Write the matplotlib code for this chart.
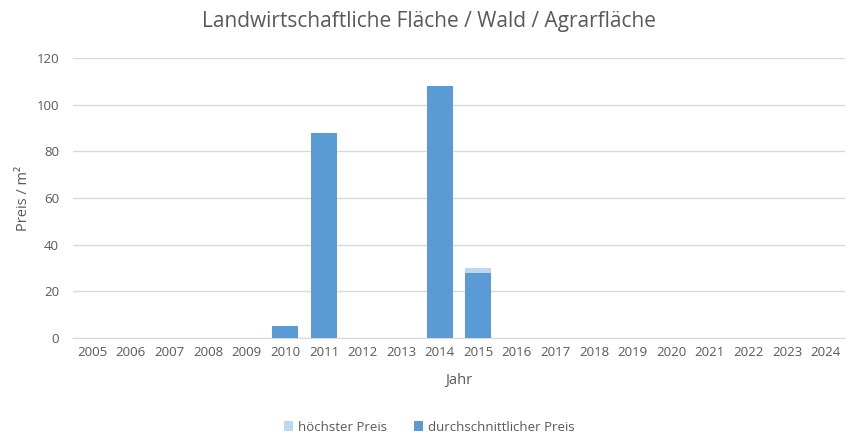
import matplotlib
matplotlib.use("Agg")
import matplotlib.pyplot as plt
import numpy as np

years = [str(y) for y in range(2005, 2025)]
hoechster = [0, 0, 0, 0, 0, 5, 88, 0, 0, 108, 30, 0, 0, 0, 0, 0, 0, 0, 0, 0]
durchschnitt = [0, 0, 0, 0, 0, 5, 88, 0, 0, 108, 28, 0, 0, 0, 0, 0, 0, 0, 0, 0]

plt.rcParams['font.family'] = ['Open Sans', 'DejaVu Sans']
fig = plt.figure(figsize=(8.59, 4.41), dpi=100)
ax = fig.add_axes([73/859, 1 - 338/441, (845-73)/859, (338-58)/441])

x = np.arange(len(years))
w = 0.68
ax.bar(x, hoechster, width=w, color='#BDD7EE', label='höchster Preis', zorder=2)
ax.bar(x, durchschnitt, width=w, color='#5B9BD5', label='durchschnittlicher Preis', zorder=3)

ax.set_xlim(-0.5, len(years) - 0.5)
ax.set_ylim(0, 120)
ax.set_yticks(range(0, 121, 20))
ax.set_xticks(x)
ax.set_xticklabels(years)
ax.grid(axis='y', color='#D9D9D9', linewidth=1, zorder=0)
for s in ['top', 'right', 'left']:
    ax.spines[s].set_visible(False)
ax.spines['bottom'].set_color('#D9D9D9')
ax.tick_params(axis='both', length=0, labelsize=9.5, colors='#595959', pad=6)
ax.tick_params(axis='y', pad=10)
ax.set_xlabel('Jahr', fontsize=10.5, color='#595959', labelpad=10)
ax.set_ylabel('Preis / m²', fontsize=10.5, color='#595959', labelpad=4)
fig.suptitle('Landwirtschaftliche Fläche / Wald / Agrarfläche', fontsize=15, color='#595959', y=0.975)

fig.legend(loc='lower center', bbox_to_anchor=(0.5, -0.01), ncol=2, frameon=False,
           fontsize=9.5, labelcolor='#595959', handlelength=0.7, handleheight=0.7,
           columnspacing=2.0, handletextpad=0.4)

fig.savefig('out.png', dpi=100)
